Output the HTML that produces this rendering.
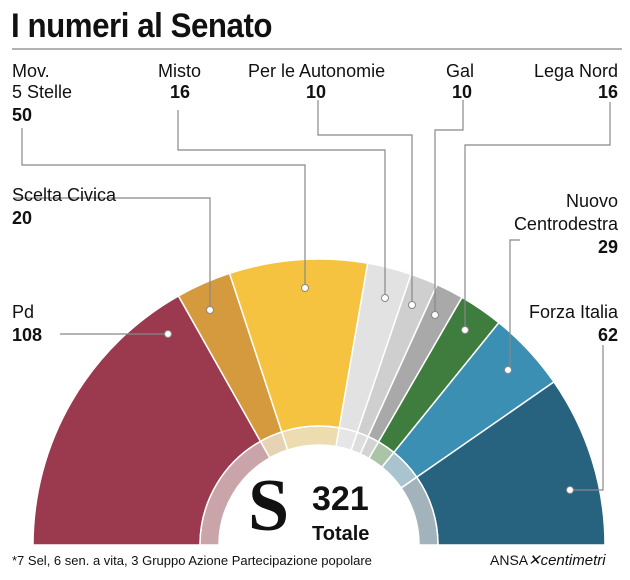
<!DOCTYPE html>
<html><head><meta charset="utf-8"><style>
html,body{margin:0;padding:0;background:#fff;}
body{width:630px;height:575px;overflow:hidden;font-family:"Liberation Sans Narrow","Liberation Sans",sans-serif;}
</style></head><body>
<svg id="s" width="630" height="575" xmlns="http://www.w3.org/2000/svg" font-family="Liberation Sans Narrow, Liberation Sans, sans-serif">
<text x="12" y="37" font-size="34" font-weight="bold" fill="#111" transform="scale(0.92,1)" style="letter-spacing:-0.5px">I numeri al Senato</text>
<line x1="12" y1="49" x2="622" y2="49" stroke="#999" stroke-width="1.5"/>
<g id="arcs"></g>
<g fill="none" stroke="#888" stroke-width="1.2">
<polyline points="22,128 22,165 305,165 305,288"/>
<polyline points="178,110 178,150 385,150 385,298"/>
<polyline points="318,100 318,135 412,135 412,305"/>
<polyline points="463,100 463,130 435,130 435,315"/>
<polyline points="610,102 610,145 465,145 465,330"/>
<polyline points="520,240 510,240 510,370"/>
<polyline points="15,198 210,198 210,310"/>
<polyline points="60,334 168,334"/>
<polyline points="603,345 603,490 570,490"/>
</g>
<g fill="#fff" stroke="#888" stroke-width="1">
<circle cx="305" cy="288" r="3.5"/><circle cx="385" cy="298" r="3.5"/><circle cx="412" cy="305" r="3.5"/>
<circle cx="435" cy="315" r="3.5"/><circle cx="465" cy="330" r="3.5"/><circle cx="508" cy="370" r="3.5"/>
<circle cx="210" cy="310" r="3.5"/><circle cx="168" cy="334" r="3.5"/><circle cx="570" cy="490" r="3.5"/>
</g>
<g font-size="18" fill="#111">
<text x="12" y="77">Mov.</text><text x="12" y="98">5 Stelle</text><text x="12" y="121" font-weight="bold">50</text>
<text x="158" y="77">Misto</text><text x="170" y="98" font-weight="bold">16</text>
<text x="248" y="77">Per le Autonomie</text><text x="306" y="98" font-weight="bold">10</text>
<text x="446" y="77">Gal</text><text x="452" y="98" font-weight="bold">10</text>
<text x="618" y="77" text-anchor="end">Lega Nord</text><text x="618" y="98" text-anchor="end" font-weight="bold">16</text>
<text x="12" y="201">Scelta Civica</text><text x="12" y="224" font-weight="bold">20</text>
<text x="618" y="207" text-anchor="end">Nuovo</text><text x="618" y="230" text-anchor="end">Centrodestra</text><text x="618" y="253" text-anchor="end" font-weight="bold">29</text>
<text x="12" y="318">Pd</text><text x="12" y="341" font-weight="bold">108</text>
<text x="618" y="318" text-anchor="end">Forza Italia</text><text x="618" y="341" text-anchor="end" font-weight="bold">62</text>
</g>
<text x="248" y="530" font-size="74" font-family="Liberation Serif, serif" font-weight="bold" fill="#111">S</text>
<text x="312" y="510" font-size="34" font-weight="bold" fill="#111">321</text>
<text x="312" y="540" font-size="20" font-weight="bold" fill="#111">Totale</text>
<rect x="0" y="545" width="630" height="30" fill="#fff"/>
<text x="12" y="565" font-size="13" fill="#111">*7 Sel, 6 sen. a vita, 3 Gruppo Azione Partecipazione popolare</text>
<text x="490" y="565" font-size="14" fill="#111">ANSA</text>
<text x="528" y="565" font-size="15" fill="#111" font-style="italic">✕centimetri</text>
</svg>
<script>
var d=[[108,"#9b3a4e","#c9a4a8"],[20,"#d59a3e","#e6d3b3"],[50,"#f5c33f","#eddcb0"],[16,"#e2e2e2","#e6e6e6"],[10,"#cfcfcf","#dedede"],[10,"#a9a9a9","#d3d3d3"],[16,"#3e7d3e","#a9c4a6"],[29,"#3b8fb3","#a9c4cf"],[62,"#27627e","#a3b3bc"]];
var cx=319,cy=545,R=286,r1=119,r0=100,a=Math.PI,g=document.getElementById("arcs"),h="";
function p(rr,t){return (cx+rr*Math.cos(t)).toFixed(2)+","+(cy-rr*Math.sin(t)).toFixed(2);}
function seg(ro,ri,t0,t1,c){return '<path d="M'+p(ro,t0)+' A'+ro+','+ro+' 0 0 1 '+p(ro,t1)+' L'+p(ri,t1)+' A'+ri+','+ri+' 0 0 0 '+p(ri,t0)+' Z" fill="'+c+'" stroke="#fff" stroke-width="1.5"/>';}
d.forEach(function(s){var b=a-Math.PI*s[0]/321;h+=seg(R,r1,a,b,s[1]);h+=seg(r1,r0,a,b,s[2]);a=b;});
h+='<path d="M'+(cx-r0)+','+cy+' A'+r0+','+r0+' 0 0 1 '+(cx+r0)+','+cy+' Z" fill="#fff"/>';
g.innerHTML=h;
</script>
</body></html>
